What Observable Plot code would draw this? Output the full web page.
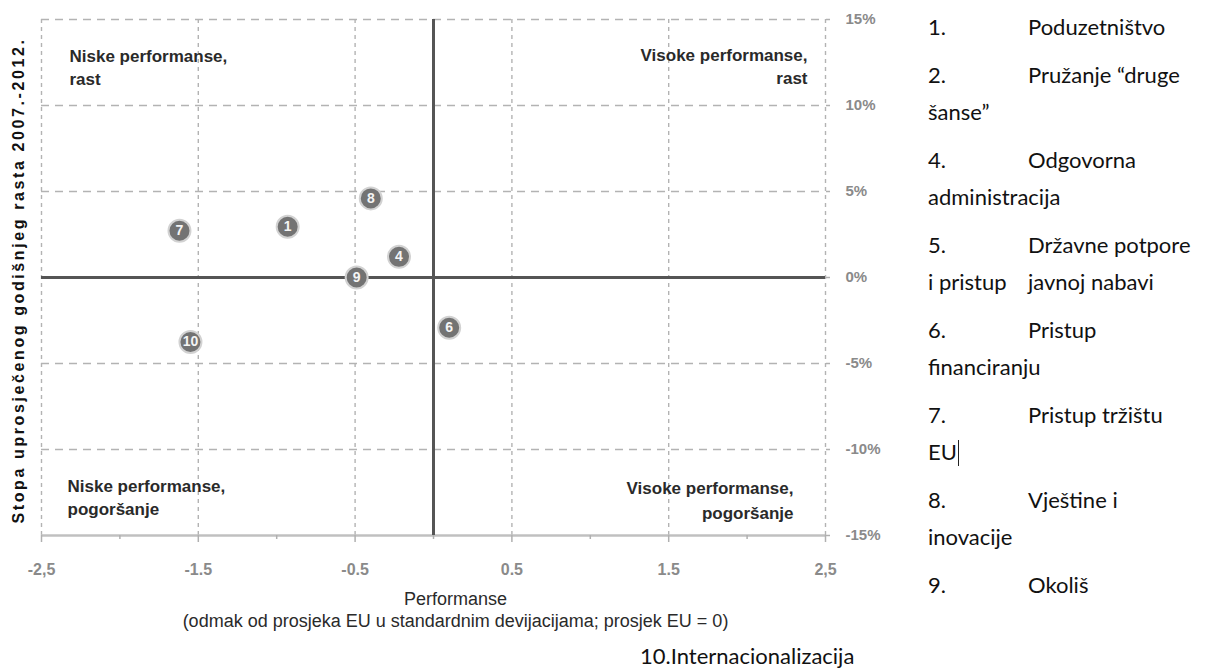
<!DOCTYPE html>
<html><head><meta charset="utf-8">
<script src="https://cdn.jsdelivr.net/npm/d3@7"></script>
<script src="https://cdn.jsdelivr.net/npm/@observablehq/plot@0.6"></script>
<style>
body{margin:0;background:#fff;width:1207px;height:670px;overflow:hidden;position:relative;}
#chart{position:absolute;left:0;top:0;}
.legend{position:absolute;left:928px;top:8px;font-family:Lato,"Open Sans",sans-serif;font-size:22px;line-height:37px;color:#111;white-space:nowrap;}
.item{margin-bottom:11px;}
.num{display:inline-block;width:100px;}
.cursor{display:inline-block;width:0;height:26px;border-left:1px solid #222;vertical-align:-6px;margin-left:1px;}
#extra{position:absolute;left:640px;top:637px;font-family:Lato,"Open Sans",sans-serif;font-size:22px;line-height:37px;color:#111;white-space:nowrap;}
</style></head><body>
<div id="chart"></div>
<div class="legend" id="legend"></div>
<div id="extra"></div>
<script>
// ---- data ----
const pointLabels = ["1", "7", "4", "6", "8", "9", "10"];
const performance = [-0.93, -1.62, -0.22, 0.10, -0.40, -0.49, -1.55];
const growth = [2.95, 2.72, 1.20, -2.92, 4.60, 0.00, -3.75];

const xTicks = [-2.5, -1.5, -0.5, 0.5, 1.5, 2.5];
const xTickLabels = ["-2,5", "-1.5", "-0.5", "0.5", "1.5", "2,5"];
const xMinorTicks = [-2, -1, 0, 1, 2];
const yTicks = [15, 10, 5, 0, -5, -10, -15];
const yTickLabels = ["15%", "10%", "5%", "0%", "-5%", "-10%", "-15%"];
const yGrid = [15, 10, 5, -5, -10];

const quadrantLabels = [
  "Niske performanse,\nrast",
  "Visoke performanse,\nrast",
  "Niske performanse,\npogoršanje",
  "Visoke performanse,\npogoršanje"
];
const yTitle = "Stopa uprosječenog godišnjeg rasta 2007.-2012.";
const xTitle = ["Performanse", "(odmak od prosjeka EU u standardnim devijacijama; prosjek EU = 0)"];

const legendNums = ["1.", "2.", "4.", "5.", "6.", "7.", "8.", "9."];
const legendFirst = ["Poduzetništvo", "Pružanje “druge", "Odgovorna", "Državne potpore", "Pristup", "Pristup tržištu", "Vještine i", "Okoliš"];
const legendSecond = ["", "šanse”", "administracija", "i pristup\tjavnoj nabavi", "financiranju", "EU", "inovacije", ""];
const legendCursorItem = 5;
const lastItem = "10.Internacionalizacija";

// ---- chart ----
const points = pointLabels.map((l, i) => ({label: l, x: performance[i], y: growth[i]}));
const xLab = new Map(xTicks.map((t, i) => [t, xTickLabels[i]]));
const yLab = new Map(yTicks.map((t, i) => [t, yTickLabels[i]]));
const narrow = "'Liberation Sans Narrow', 'Arial Narrow', sans-serif";

const plot = Plot.plot({
  width: 900, height: 630,
  marginLeft: 41, marginRight: 75, marginTop: 19, marginBottom: 95,
  style: {fontFamily: "'Liberation Sans', Arial, sans-serif", background: "#fff", overflow: "visible"},
  x: {domain: [-2.5, 2.5], label: null},
  y: {domain: [-15, 15], label: null},
  marks: [
    Plot.ruleX(xTicks, {stroke: "#b3b3b3", strokeWidth: 1.4, strokeDasharray: "4,4"}),
    Plot.ruleY(yGrid, {stroke: "#b3b3b3", strokeWidth: 1.6, strokeDasharray: "8,6"}),
    Plot.ruleY([-15], {stroke: "#c0c0c0", strokeWidth: 2.5}),
    Plot.axisX({ticks: xTicks, tickSize: 7, tickPadding: 21, tickFormat: d => xLab.get(d),
      stroke: "#b0b0b0", strokeWidth: 1.5, fill: "#8a8a8a", fontSize: 16, fontWeight: "bold", label: null}),
    Plot.axisX({ticks: xMinorTicks, tickSize: 4, tickFormat: () => "", stroke: "#b0b0b0", strokeWidth: 1.5, label: null}),
    Plot.axisY({anchor: "right", ticks: yTicks, tickSize: 4, tickPadding: 16, tickFormat: d => yLab.get(d),
      stroke: "#b0b0b0", strokeWidth: 1.5, fill: "#8a8a8a", fontSize: 15, fontWeight: "bold", label: null}),
    Plot.ruleX([0], {stroke: "#555", strokeWidth: 3}),
    Plot.ruleY([0], {stroke: "#555", strokeWidth: 3}),
    Plot.text([quadrantLabels[0]], {frameAnchor: "top-left", dx: 28, dy: 26, fontSize: 17, fontWeight: "bold", fill: "#2a2a2a", lineHeight: 1.35}),
    Plot.text([quadrantLabels[1]], {frameAnchor: "top-right", dx: -18, dy: 25, fontSize: 17, fontWeight: "bold", fill: "#2a2a2a", lineHeight: 1.35}),
    Plot.text([quadrantLabels[2]], {frameAnchor: "bottom-left", dx: 26, dy: -21, fontSize: 17, fontWeight: "bold", fill: "#2a2a2a", lineHeight: 1.35}),
    Plot.text([quadrantLabels[3]], {frameAnchor: "bottom-right", dx: -32, dy: -17, fontSize: 17, fontWeight: "bold", fill: "#2a2a2a", lineHeight: 1.45}),
    Plot.dot(points, {x: "x", y: "y", r: 11, fill: "#737373", stroke: "#d2d2d2", strokeWidth: 2}),
    Plot.text(points, {x: "x", y: "y", text: "label", fill: "#f4f4f4", fontWeight: "bold", fontSize: 14}),
    Plot.text([yTitle], {frameAnchor: "left", dx: -23, dy: 3, rotate: -90, textAnchor: "middle", lineAnchor: "middle",
      fontSize: 16, fontWeight: "bold", fill: "#111"}),
    Plot.text([xTitle[0]], {frameAnchor: "bottom", dx: 22, dy: 64, lineAnchor: "middle", fontSize: 18, fill: "#2a2a2a", fontFamily: narrow}),
    Plot.text([xTitle[1]], {frameAnchor: "bottom", dx: 22, dy: 86, lineAnchor: "middle", fontSize: 18, fill: "#2a2a2a", fontFamily: narrow})
  ]
});
document.getElementById("chart").appendChild(plot);
d3.select(plot).selectAll("text").filter(function() { return this.textContent === yTitle; })
  .style("letter-spacing", "2.6px");

// ---- legend ----
const leg = d3.select("#legend");
legendNums.forEach((n, i) => {
  const item = leg.append("div").attr("class", "item");
  const l1 = item.append("div");
  l1.append("span").attr("class", "num").text(n);
  l1.append("span").text(legendFirst[i]);
  if (legendSecond[i]) {
    const l2 = item.append("div");
    const parts = legendSecond[i].split("\t");
    if (parts.length > 1) {
      l2.append("span").attr("class", "num").text(parts[0]);
      l2.append("span").text(parts[1]);
    } else {
      l2.append("span").text(parts[0]);
    }
    if (i === legendCursorItem) l2.append("span").attr("class", "cursor");
  }
});
d3.select("#extra").text(lastItem);
</script>
</body></html>
